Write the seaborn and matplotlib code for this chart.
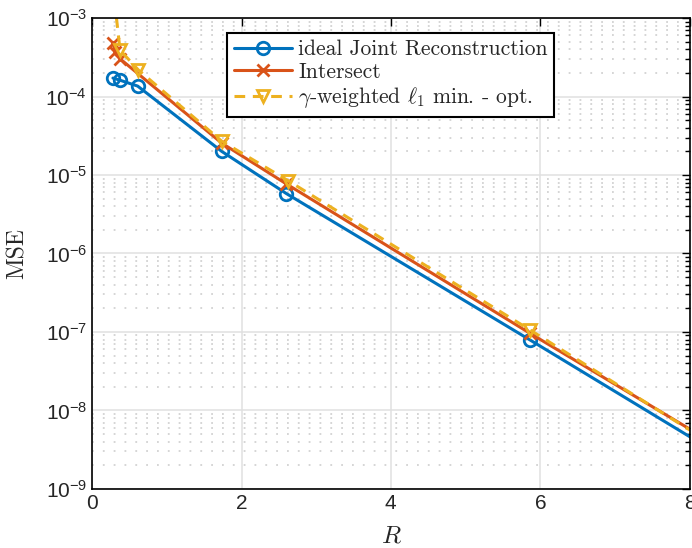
import numpy as np
import pandas as pd
import seaborn as sns
import matplotlib.pyplot as plt

# MSE mot rate R, tre metoder (lest av fra figuren)
r_joint = [0.28, 0.37, 0.61, 1.735, 2.60, 5.86, 8.0]
mse_joint = [1.72e-4, 1.62e-4, 1.36e-4, 2.0e-5, 5.8e-6, 7.9e-8, 4.6e-9]

r_inter = [0.28, 0.31, 0.38, 1.735, 2.60, 5.86, 8.0]
mse_inter = [4.8e-4, 3.7e-4, 3.0e-4, 2.55e-5, 7.7e-6, 9.6e-8, 5.75e-9]

r_gamma = [0.28, 0.375, 0.62, 1.735, 2.62, 5.86, 8.0]
mse_gamma = [2.5e-3, 3.9e-4, 2.18e-4, 2.7e-5, 8.5e-6, 1.06e-7, 5.6e-9]

labels = ["ideal Joint Reconstruction", "Intersect",
          r"$\gamma$-weighted $\ell_1$ min. - opt."]
x_ticks = [0, 2, 4, 6, 8]

sns.set_style("white")
plt.rcParams['font.family'] = ['Liberation Sans', 'DejaVu Sans']
plt.rcParams['axes.formatter.use_mathtext'] = True

fig = plt.figure(figsize=(6.92, 5.48), dpi=100)
ax = fig.add_axes([0.133, 0.108, 0.864, 0.859])

series = [
    (r_joint, mse_joint, "#0072BD", "o", "-"),
    (r_inter, mse_inter, "#D95319", "x", "-"),
    (r_gamma, mse_gamma, "#EDB120", "v", "--"),
]
for (r, mse, col, mk, ls), lab in zip(series, labels):
    df = pd.DataFrame({"R": r, "MSE": mse})
    sns.lineplot(data=df, x="R", y="MSE", ax=ax, color=col, marker=mk,
                 linestyle=ls, lw=2.2, markersize=9, markerfacecolor="none",
                 markeredgecolor=col, markeredgewidth=2.0,
                 markevery=list(range(len(r) - 1)), errorbar=None,
                 label=lab, legend=False)

ax.lines[2].set_dashes((3.5, 2.5))

ax.set_yscale("log")
ax.set_xlim(0, 8)
ax.set_ylim(1e-9, 1e-3)
ax.set_xticks(x_ticks)

ax.set_axisbelow(True)
ax.grid(which="major", color="#e0e0e0", lw=1.1, linestyle="-")
ax.yaxis.grid(which="minor", color="#d2d2d2", lw=1.3, linestyle=(0, (1, 5)))

ax.tick_params(which="both", direction="in", top=True, right=True,
               labelsize=15, color="black")
ax.tick_params(which="major", length=6, width=1)
ax.tick_params(which="minor", length=3.5, width=1)
for sp in ax.spines.values():
    sp.set_color("black")
    sp.set_linewidth(1.2)

ax.set_xlabel(r"$R$", fontsize=18, math_fontfamily="cm", labelpad=8)
ax.set_ylabel("MSE", fontsize=17, family="cmr10", labelpad=12)

leg = ax.legend(loc="upper left", bbox_to_anchor=(0.226, 0.968),
                borderaxespad=0, handlelength=2.7, labelspacing=0.15,
                handletextpad=0.3, borderpad=0.3, fancybox=False,
                framealpha=1, edgecolor="black",
                prop={"family": "cmr10", "size": 15.5, "math_fontfamily": "cm"})
leg.get_frame().set_linewidth(1.5)

fig.savefig("out.png", dpi=100)
